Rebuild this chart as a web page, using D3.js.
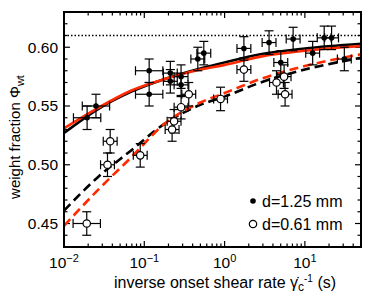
<!DOCTYPE html>
<html>
<head>
<meta charset="utf-8">
<script src="https://cdn.jsdelivr.net/npm/d3@7"></script>
<style>
  body { margin: 0; background: #fff; }
  svg { font-family: "Liberation Sans", Arial, Helvetica, sans-serif; }
</style>
</head>
<body>
<svg id="chart" width="374" height="301"></svg>
<script>
// data: [inverse onset shear rate (s), weight fraction, x error factor]
const bigGrains = [
  [0.0194, 0.540, 1.48], [0.025, 0.550, 1.48], [0.115, 0.580, 1.48], [0.115, 0.560, 1.48],
  [0.211, 0.578, 1.22], [0.211, 0.571, 1.22], [0.287, 0.575, 1.22], [0.287, 0.568, 1.22],
  [0.464, 0.590, 1.22], [0.551, 0.595, 1.22], [1.74, 0.599, 1.22], [3.58, 0.604, 1.22],
  [5.01, 0.587, 1.22], [7.14, 0.607, 1.22], [12.5, 0.595, 1.22], [17.4, 0.608, 1.22],
  [21.5, 0.608, 1.22], [31.0, 0.590, 1.22]
]
const smallGrains = [
  [0.0192, 0.450, 1.48], [0.0348, 0.500, 1.22], [0.0376, 0.520, 1.22], [0.089, 0.508, 1.22],
  [0.222, 0.530, 1.22], [0.235, 0.537, 1.22], [0.287, 0.549, 1.22], [0.358, 0.560, 1.22],
  [0.891, 0.556, 1.22], [1.74, 0.581, 1.22], [4.43, 0.570, 1.22], [5.51, 0.575, 1.22],
  [5.67, 0.560, 1.22]
]
// fit curves, points
const fitBigBlack = [[0.01,0.527],[0.026,0.547],[0.068,0.562],[0.18,0.573],[0.5,0.582],[1,0.587],[2.8,0.594],[10,0.599],[50,0.603]]
const fitBigRed = [[0.01,0.531],[0.026,0.548],[0.068,0.563],[0.18,0.573],[0.5,0.581],[1,0.585],[2.8,0.592],[10,0.597],[50,0.601]]
const fitSmallBlack = [[0.01,0.461],[0.026,0.489],[0.068,0.512],[0.18,0.535],[0.5,0.551],[1,0.558],[2.8,0.570],[10,0.581],[50,0.591]]
const fitSmallRed = [[0.01,0.448],[0.026,0.478],[0.068,0.506],[0.18,0.535],[0.5,0.553],[1,0.561],[2.8,0.573],[10,0.584],[50,0.594]]
const phiRcp = 0.61
const yErr = 0.01
const xDecades = [-2, -1, 0, 1]
const yTickLabels = ["0.45", "0.50", "0.55", "0.60"]
const legendLabels = ["d=1.25 mm", "d=0.61 mm"]

const svg = d3.select("#chart")
const plotL = 64, plotR = 361, plotT = 12, plotB = 247
const red = "#ff2a00"

const x = d3.scaleLog().domain([0.01, 50]).range([plotL, plotR])
const y = d3.scaleLinear().domain([0.43, 0.63]).range([plotB, plotT])

// ticks on all four sides, pointing inward
const decadeValues = xDecades.map(e => Math.pow(10, e))
const xMinor = x.ticks().filter(d => !decadeValues.some(m => Math.abs(m - d) / d < 1e-6))
const yMajor = yTickLabels.map(Number)
const yMinor = d3.range(44, 63).map(d => d / 100).filter(d => !yMajor.some(m => Math.abs(m - d) < 1e-6))

const ticks = svg.append("g").attr("stroke", "#000").attr("stroke-width", 1.2)
function xTick(v, len) {
  ticks.append("line").attr("x1", x(v)).attr("x2", x(v)).attr("y1", plotB).attr("y2", plotB - len)
  ticks.append("line").attr("x1", x(v)).attr("x2", x(v)).attr("y1", plotT).attr("y2", plotT + len)
}
function yTick(v, len) {
  ticks.append("line").attr("y1", y(v)).attr("y2", y(v)).attr("x1", plotL).attr("x2", plotL + len)
  ticks.append("line").attr("y1", y(v)).attr("y2", y(v)).attr("x1", plotR).attr("x2", plotR - len)
}
decadeValues.forEach(v => xTick(v, 6))
xMinor.forEach(v => xTick(v, 3.5))
yMajor.forEach(v => yTick(v, 6))
yMinor.forEach(v => yTick(v, 3.5))

// tick labels
xDecades.forEach(e => {
  const t = svg.append("text")
    .attr("x", x(Math.pow(10, e)))
    .attr("y", 268)
    .attr("text-anchor", "middle")
    .attr("font-size", 15.5)
  t.append("tspan").text("10")
  t.append("tspan").attr("dy", -6).attr("font-size", 11).text(e < 0 ? "\u2212" + (-e) : e)
})
yTickLabels.forEach(s => {
  svg.append("text")
    .attr("x", 58).attr("y", y(+s))
    .attr("dy", "0.35em")
    .attr("text-anchor", "end")
    .attr("font-size", 15.5)
    .text(s)
})

// axis titles
const xt = svg.append("text")
  .attr("x", 225).attr("y", 288)
  .attr("text-anchor", "middle")
  .attr("font-size", 16)
xt.append("tspan").text("inverse onset shear rate \u03B3\u0307")
xt.append("tspan").attr("dy", 3).attr("font-size", 12).text("c")
xt.append("tspan").attr("dy", -9).attr("font-size", 10).text("-1")
xt.append("tspan").attr("dy", 6).text(" (s)")

const yt = svg.append("text")
  .attr("transform", "translate(20,137) rotate(-90)")
  .attr("text-anchor", "middle")
  .attr("font-size", 15)
yt.append("tspan").text("weight fraction \u03A6")
yt.append("tspan").attr("dy", 4).attr("font-size", 11).text("wt")

// random close packing line
svg.append("line")
  .attr("x1", plotL).attr("x2", plotR)
  .attr("y1", y(phiRcp)).attr("y2", y(phiRcp))
  .attr("stroke", "#000").attr("stroke-width", 1.5)
  .attr("stroke-dasharray", "1.5,2")

// fits
const line = d3.line().x(d => x(d[0])).y(d => y(d[1])).curve(d3.curveMonotoneX)
const fits = [
  {pts: fitSmallBlack, color: "#000", dash: "9,5"},
  {pts: fitSmallRed, color: red, dash: "9,5"},
  {pts: fitBigBlack, color: "#000", dash: null},
  {pts: fitBigRed, color: red, dash: null}
]
fits.forEach(f => {
  svg.append("path")
    .attr("d", line(f.pts))
    .attr("fill", "none")
    .attr("stroke", f.color)
    .attr("stroke-width", 2.6)
    .attr("stroke-dasharray", f.dash)
})

// error bars
function errorBars(data) {
  const g = svg.append("g").attr("stroke", "#000").attr("stroke-width", 1.2)
  const cap = 4.5
  data.forEach(d => {
    const cx = x(d[0]), cy = y(d[1])
    const x0 = x(d[0] / d[2]), x1 = x(d[0] * d[2])
    const y0 = y(d[1] - yErr), y1 = y(d[1] + yErr)
    g.append("line").attr("x1", x0).attr("x2", x1).attr("y1", cy).attr("y2", cy)
    g.append("line").attr("x1", cx).attr("x2", cx).attr("y1", y0).attr("y2", y1)
    g.append("line").attr("x1", x0).attr("x2", x0).attr("y1", cy - cap).attr("y2", cy + cap)
    g.append("line").attr("x1", x1).attr("x2", x1).attr("y1", cy - cap).attr("y2", cy + cap)
    g.append("line").attr("x1", cx - cap).attr("x2", cx + cap).attr("y1", y0).attr("y2", y0)
    g.append("line").attr("x1", cx - cap).attr("x2", cx + cap).attr("y1", y1).attr("y2", y1)
  })
}
errorBars(smallGrains)
errorBars(bigGrains)

svg.selectAll(".open").data(smallGrains).join("circle")
  .attr("class", "open")
  .attr("cx", d => x(d[0])).attr("cy", d => y(d[1]))
  .attr("r", 3.7)
  .attr("fill", "#fff").attr("stroke", "#000").attr("stroke-width", 1.2)
svg.selectAll(".filled").data(bigGrains).join("circle")
  .attr("class", "filled")
  .attr("cx", d => x(d[0])).attr("cy", d => y(d[1]))
  .attr("r", 2.8)
  .attr("fill", "#000")

// frame
svg.append("rect")
  .attr("x", plotL).attr("y", plotT)
  .attr("width", plotR - plotL).attr("height", plotB - plotT)
  .attr("fill", "none").attr("stroke", "#000").attr("stroke-width", 2)

// legend
const legend = svg.selectAll(".legend").data(legendLabels).join("g")
  .attr("class", "legend")
  .attr("transform", (d, i) => `translate(253,${201 + i * 23})`)
legend.append("circle")
  .attr("r", (d, i) => i === 0 ? 2.8 : 3.7)
  .attr("fill", (d, i) => i === 0 ? "#000" : "#fff")
  .attr("stroke", (d, i) => i === 0 ? "none" : "#000")
  .attr("stroke-width", 1.2)
legend.append("text")
  .attr("x", 9).attr("dy", "0.35em")
  .attr("font-size", 16)
  .text(d => d)
</script>
</body>
</html>
